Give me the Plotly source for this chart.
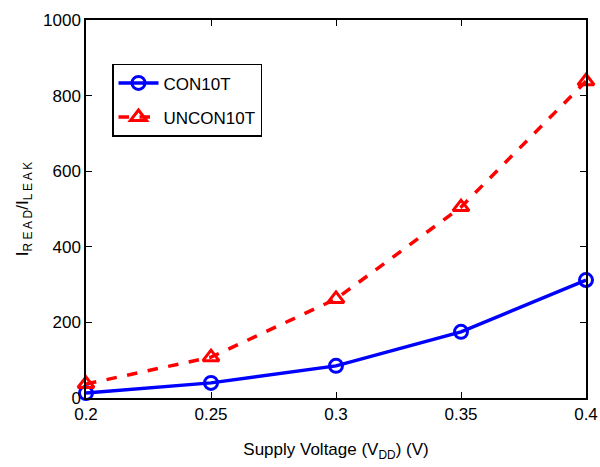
import plotly.graph_objects as go

vdd = [0.2, 0.25, 0.3, 0.35, 0.4]
con10t = [13, 40, 85, 175, 312]
uncon10t = [37, 108, 262, 505, 838]
x_ticks = [0.2, 0.25, 0.3, 0.35, 0.4]
x_tick_text = ["0.2", "0.25", "0.3", "0.35", "0.4"]
y_ticks = [0, 200, 400, 600, 800, 1000]

FONT = "Liberation Sans, Arial, sans-serif"
FS = 17

fig = go.Figure()
fig.add_trace(go.Scatter(
    x=vdd, y=con10t, name="CON10T", mode="lines+markers", legendgroup="a",
    line=dict(color="#0000ff", width=3.5),
    marker=dict(symbol="circle-open", size=13, color="#0000ff", line=dict(width=3, color="#0000ff")),
    cliponaxis=False,
))
fig.add_trace(go.Scatter(
    x=vdd, y=uncon10t, name="UNCON10T", mode="lines+markers", legendgroup="b",
    line=dict(color="#ff0000", width=3.5, dash="dash"),
    marker=dict(symbol="triangle-up-open", size=14, color="#ff0000", line=dict(width=3, color="#ff0000")),
    cliponaxis=False,
))

axis_common = dict(
    showline=True, linecolor="black", linewidth=1.5, mirror="ticks",
    ticks="inside", ticklen=6, tickcolor="black", tickwidth=1,
    showgrid=False, zeroline=False, automargin=False,
    tickfont=dict(family=FONT, size=FS, color="black"),
)

fig.update_layout(
    width=600, height=467,
    margin=dict(l=86, r=14, t=20, b=69),
    paper_bgcolor="white", plot_bgcolor="white",
    font=dict(family=FONT, size=FS, color="black"),
    xaxis=dict(range=[0.2, 0.4], tickvals=x_ticks, ticktext=x_tick_text,
               title=dict(text="Supply Voltage (V<sub>DD</sub>) (V)", standoff=20,
                          font=dict(family=FONT, size=FS)),
               **axis_common),
    yaxis=dict(range=[0, 1000], tickvals=y_ticks,
               title=dict(text="I<sub>R E A D</sub>/I<sub>L E A K</sub>", standoff=10,
                          font=dict(family=FONT, size=FS)),
               **axis_common),
    legend=dict(x=0.052, y=0.884, xanchor="left", yanchor="top",
                bordercolor="black", borderwidth=1.5, bgcolor="white",
                font=dict(family=FONT, size=FS, color="black"),
                traceorder="grouped", tracegroupgap=9, itemwidth=40),
    showlegend=True,
)

fig.write_html("out.html",
               config={"displayModeBar": False},
               post_script="document.body.style.margin='0';document.body.style.overflow='hidden';")
